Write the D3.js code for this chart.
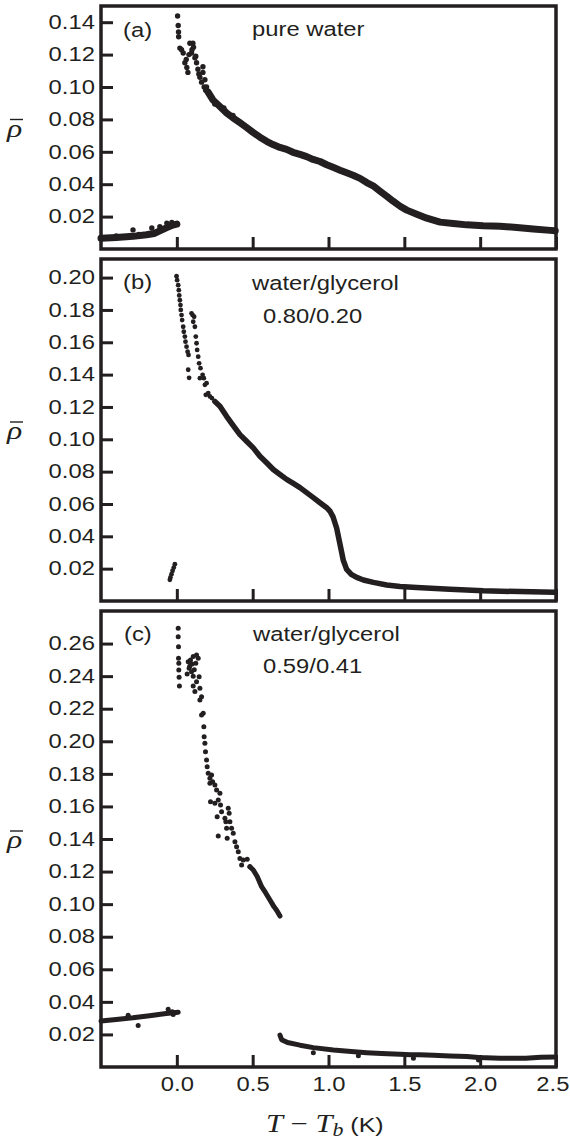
<!DOCTYPE html>
<html>
<head>
<meta charset="utf-8">
<script src="https://cdn.jsdelivr.net/npm/d3@7"></script>
<style>
  body { margin: 0; background: #fff; }
  svg { display: block; }
</style>
</head>
<body>
<div id="chart"></div>
<script>
const ink = '#231f20';
const SX = 1.22; // the original lettering is a bit wide

// ---- tick labels ----
const xTicks = [0, 0.5, 1.0, 1.5, 2.0, 2.5];
const yTicksA = [0.02, 0.04, 0.06, 0.08, 0.10, 0.12, 0.14];
const yTicksB = [0.02, 0.04, 0.06, 0.08, 0.10, 0.12, 0.14, 0.16, 0.18, 0.20];
const yTicksC = [0.02, 0.04, 0.06, 0.08, 0.10, 0.12, 0.14, 0.16, 0.18, 0.20, 0.22, 0.24, 0.26];

// ---- (a) pure water ----
const waterBelow = [[-0.50, 0.0066], [-0.40, 0.0071], [-0.289, 0.0078], [-0.20, 0.0088], [-0.15, 0.0096],
  [-0.112, 0.0112], [-0.066, 0.0132], [-0.026, 0.0148], [0.0, 0.0154]];
const waterBelowDots = [[-0.289, 0.0118], [-0.165, 0.0130], [-0.112, 0.0138], [-0.066, 0.0160], [-0.033, 0.0164],
  [-0.40, 0.0080], [-0.25, 0.0090], [0.004, 0.0154]];
const waterAbove = [[0.205, 0.097], [0.238, 0.092], [0.284, 0.088], [0.328, 0.084], [0.370, 0.081], [0.416, 0.078],
  [0.460, 0.075], [0.502, 0.072], [0.548, 0.069], [0.592, 0.0665], [0.634, 0.0645], [0.680, 0.0627], [0.724, 0.0615],
  [0.766, 0.0597], [0.812, 0.0584], [0.856, 0.057], [0.898, 0.0553], [0.944, 0.054], [0.988, 0.052], [1.030, 0.0504],
  [1.076, 0.0486], [1.120, 0.0470], [1.162, 0.0455], [1.208, 0.0436], [1.252, 0.041], [1.294, 0.039], [1.340, 0.0357],
  [1.384, 0.0326], [1.426, 0.0295], [1.472, 0.0264], [1.516, 0.0240], [1.582, 0.0215], [1.648, 0.019], [1.736, 0.0166],
  [1.822, 0.0158], [1.912, 0.0149], [2.020, 0.0143], [2.132, 0.014], [2.242, 0.0133], [2.350, 0.0124], [2.462, 0.0115],
  [2.495, 0.0113]];
const waterAboveDots = [[0.005, 0.1438], [0.009, 0.138], [0.011, 0.134], [0.012, 0.131], [0.020, 0.124], [0.031, 0.123],
  [0.042, 0.121], [0.053, 0.115], [0.066, 0.112], [0.073, 0.109], [0.086, 0.127], [0.097, 0.121], [0.106, 0.127],
  [0.110, 0.1245], [0.119, 0.118], [0.130, 0.115], [0.139, 0.111], [0.152, 0.106], [0.163, 0.103], [0.172, 0.1125],
  [0.172, 0.109], [0.185, 0.1045], [0.196, 0.100], [0.062, 0.117], [0.080, 0.120], [0.100, 0.123], [0.125, 0.119],
  [0.145, 0.108], [0.180, 0.100], [0.190, 0.098], [0.25, 0.0895], [0.31, 0.0870], [0.37, 0.0825]];

// ---- (b) water/glycerol 0.80/0.20 ----
const mixBBelowDots = [[-0.013, 0.0228], [-0.020, 0.0207], [-0.028, 0.0187], [-0.035, 0.0166], [-0.042, 0.0146],
  [-0.046, 0.0131]];
const mixBAbove = [[0.251, 0.1234], [0.284, 0.1205], [0.328, 0.1142], [0.372, 0.1085], [0.416, 0.1029], [0.460, 0.0988],
  [0.504, 0.0947], [0.548, 0.0895], [0.592, 0.0855], [0.636, 0.0813], [0.680, 0.0782], [0.724, 0.0752], [0.768, 0.0727],
  [0.812, 0.0701], [0.856, 0.0670], [0.900, 0.0639], [0.944, 0.0608], [0.988, 0.0577], [1.010, 0.0555], [1.030, 0.0520],
  [1.054, 0.0450], [1.076, 0.0350], [1.098, 0.0250], [1.120, 0.0195], [1.150, 0.0165], [1.186, 0.0146], [1.230, 0.0130],
  [1.296, 0.0115], [1.384, 0.0099], [1.472, 0.0090], [1.582, 0.0084], [1.800, 0.0073], [2.020, 0.0063], [2.260, 0.0058],
  [2.490, 0.0054]];
const mixBAboveDots = [[-0.002, 0.2009], [0.002, 0.1984], [0.009, 0.1953], [0.013, 0.1922], [0.016, 0.189], [0.020, 0.186],
  [0.024, 0.183], [0.026, 0.180], [0.031, 0.1768], [0.035, 0.1737], [0.042, 0.1696], [0.046, 0.1665], [0.053, 0.1635],
  [0.057, 0.1604], [0.064, 0.1573], [0.071, 0.1542], [0.077, 0.1522], [0.075, 0.143], [0.081, 0.138],
  [0.097, 0.1779], [0.104, 0.1768], [0.114, 0.1758], [0.108, 0.1727], [0.119, 0.1696], [0.125, 0.1635], [0.130, 0.1594],
  [0.134, 0.1553], [0.141, 0.1511], [0.147, 0.147], [0.156, 0.144], [0.152, 0.1378], [0.170, 0.1399], [0.178, 0.1378],
  [0.185, 0.1337], [0.196, 0.1347], [0.191, 0.1275], [0.207, 0.1286], [0.218, 0.1265], [0.231, 0.1255]];

// ---- (c) water/glycerol 0.59/0.41 ----
const mixCBelow = [[-0.50, 0.0282], [-0.40, 0.0292], [-0.29, 0.0302], [-0.18, 0.0315], [-0.07, 0.0328], [0.009, 0.0336]];
const mixCBelowDots = [[-0.321, 0.0318], [-0.255, 0.0255], [-0.057, 0.0354], [-0.024, 0.0322], [-0.03, 0.0340]];
const mixCAbove = [[0.482, 0.123], [0.504, 0.121], [0.530, 0.117], [0.559, 0.1107], [0.585, 0.107], [0.614, 0.1025],
  [0.640, 0.0985], [0.660, 0.096], [0.680, 0.0927]];
const mixCAboveDots = [[0.009, 0.2694], [0.009, 0.2642], [0.011, 0.258], [0.011, 0.251], [0.013, 0.2479], [0.013, 0.2438],
  [0.015, 0.2393], [0.017, 0.234], [0.075, 0.2489], [0.090, 0.2499], [0.108, 0.252], [0.130, 0.253], [0.141, 0.251],
  [0.125, 0.2479], [0.081, 0.2448], [0.097, 0.2427], [0.068, 0.2413], [0.108, 0.240], [0.147, 0.2397], [0.130, 0.2366],
  [0.108, 0.234], [0.119, 0.2305], [0.152, 0.2326], [0.163, 0.2274], [0.152, 0.2254], [0.174, 0.2172], [0.163, 0.2161],
  [0.178, 0.209], [0.180, 0.2028], [0.185, 0.1988], [0.189, 0.1936], [0.196, 0.1885], [0.200, 0.1844], [0.207, 0.1803],
  [0.218, 0.1773], [0.229, 0.1793], [0.218, 0.1742], [0.236, 0.1752], [0.251, 0.1732], [0.262, 0.1701], [0.284, 0.1681],
  [0.273, 0.164], [0.251, 0.1619], [0.288, 0.1609], [0.222, 0.1629], [0.295, 0.1568], [0.339, 0.1589], [0.317, 0.1527],
  [0.345, 0.1558], [0.266, 0.1537], [0.323, 0.1506], [0.328, 0.1466], [0.350, 0.1506], [0.361, 0.1466], [0.372, 0.1435],
  [0.273, 0.1418], [0.332, 0.1404], [0.383, 0.1383], [0.394, 0.1353], [0.405, 0.1322], [0.416, 0.1281], [0.438, 0.1271],
  [0.427, 0.124], [0.464, 0.1275], [0.482, 0.123], [0.085, 0.2460], [0.100, 0.2475], [0.115, 0.2440]];
const mixCTail = [[0.680, 0.0196], [0.691, 0.0168], [0.73, 0.0150], [0.812, 0.0134], [0.90, 0.0119], [1.032, 0.0104],
  [1.15, 0.0095], [1.252, 0.0088], [1.35, 0.0083], [1.472, 0.0078], [1.54, 0.0075], [1.60, 0.0075], [1.692, 0.0072],
  [1.80, 0.0068], [1.912, 0.0064], [1.99, 0.0058], [2.132, 0.0054], [2.30, 0.0054], [2.40, 0.0060], [2.495, 0.0062]];
const mixCTailDots = [[0.900, 0.0088], [1.197, 0.0069], [1.560, 0.0053], [1.989, 0.0043]];

const panels = [
  { top: 6, bottom: 249, yMax: 0.15, yTicks: yTicksA, lw: 7, r: 2.7,
    bands: [waterBelow, waterAbove], dots: [waterBelowDots, waterAboveDots],
    notes: [['(a)', 123, 37], ['pure water', 252, 36]] },
  { top: 259, bottom: 601, yMax: 0.2115, yTicks: yTicksB, lw: 5.5, r: 2.4,
    bands: [mixBAbove], dots: [mixBBelowDots, mixBAboveDots],
    notes: [['(b)', 123, 289], ['water/glycerol', 252, 290], ['0.80/0.20', 263, 323]] },
  { top: 611, bottom: 1067, yMax: 0.28, yTicks: yTicksC, lw: 5, r: 2.5, xLabels: true,
    bands: [mixCBelow, mixCAbove, mixCTail], dots: [mixCBelowDots, mixCAboveDots, mixCTailDots],
    notes: [['(c)', 124, 641], ['water/glycerol', 253, 641], ['0.59/0.41', 263, 673]] }
];

const width = 570, height = 1144;
const svg = d3.select('#chart').append('svg')
  .attr('width', width)
  .attr('height', height)
  .attr('font-family', 'Liberation Sans, Arial, sans-serif');

const x = d3.scaleLinear().domain([-0.5, 2.5]).range([101, 556]);

panels.forEach(p => {
  const y = d3.scaleLinear().domain([0, p.yMax]).range([p.bottom, p.top]);
  const g = svg.append('g');

  // Curves: dense runs as a thick stroke, scattered points as dots
  const line = d3.line().x(d => x(d[0])).y(d => y(d[1]));
  p.bands.forEach(b => {
    g.append('path')
      .attr('d', line(b))
      .attr('fill', 'none')
      .attr('stroke', ink)
      .attr('stroke-width', p.lw)
      .attr('stroke-linecap', 'round')
      .attr('stroke-linejoin', 'round');
  });
  p.dots.forEach(set => {
    g.append('g').selectAll('circle')
      .data(set).enter()
      .append('circle')
      .attr('cx', d => x(d[0]))
      .attr('cy', d => y(d[1]))
      .attr('r', p.r)
      .attr('fill', ink);
  });

  // Left axis, ticks pointing inside
  const ya = g.append('g')
    .attr('transform', `translate(${x.range()[0]},0)`)
    .call(d3.axisLeft(y).tickValues(p.yTicks).tickSizeInner(-12).tickSizeOuter(0)
      .tickPadding(5).tickFormat(d3.format('.2f')));
  ya.select('.domain').remove();
  ya.selectAll('line').attr('stroke', ink).attr('stroke-width', 3);
  ya.selectAll('text')
    .attr('fill', ink)
    .attr('font-family', 'Liberation Sans, Arial, sans-serif')
    .attr('font-size', 19.5)
    .attr('transform', `scale(${SX},1)`);

  // Bottom axis
  const xa = g.append('g')
    .attr('transform', `translate(0,${p.bottom})`)
    .call(d3.axisBottom(x).tickValues(xTicks).tickSizeInner(-12).tickSizeOuter(0)
      .tickPadding(10).tickFormat(p.xLabels ? d3.format('.1f') : ''));
  xa.select('.domain').remove();
  xa.selectAll('line').attr('stroke', ink).attr('stroke-width', 3);
  xa.selectAll('text')
    .attr('fill', ink)
    .attr('font-family', 'Liberation Sans, Arial, sans-serif')
    .attr('font-size', 19.5)
    .attr('transform', `scale(${SX},1)`)
    .attr('dx', d => d === 2.5 ? -3 : 0); // last label sits at the page edge

  // Frame
  g.append('rect')
    .attr('x', x.range()[0])
    .attr('y', p.top)
    .attr('width', x.range()[1] - x.range()[0])
    .attr('height', p.bottom - p.top)
    .attr('fill', 'none')
    .attr('stroke', ink)
    .attr('stroke-width', 3.5);

  // Panel notes
  p.notes.forEach(([t, nx, ny]) => {
    g.append('text')
      .attr('transform', `translate(${nx},${ny}) scale(${SX},1)`)
      .attr('font-size', 19.5)
      .attr('fill', ink)
      .text(t);
  });

  // rho-bar label
  const cy = (p.top + p.bottom) / 2;
  g.append('text')
    .attr('transform', `translate(7,${cy + 9}) scale(${SX},1)`)
    .attr('font-family', 'Liberation Serif, serif')
    .attr('font-style', 'italic')
    .attr('font-size', 26)
    .attr('fill', ink)
    .text('ρ');
  g.append('line')
    .attr('x1', 10).attr('x2', 23)
    .attr('y1', cy - 8).attr('y2', cy - 8)
    .attr('stroke', ink)
    .attr('stroke-width', 1.4);
});

// x title: T − T_b (K)
const title = svg.append('text')
  .attr('transform', `translate(266,1132) scale(${SX},1)`)
  .attr('fill', ink)
  .attr('font-family', 'Liberation Serif, serif')
  .attr('font-size', 25);
title.append('tspan').attr('font-style', 'italic').text('T');
title.append('tspan').text(' − ');
title.append('tspan').attr('font-style', 'italic').text('T');
title.append('tspan').attr('font-style', 'italic').attr('font-size', 18).attr('dy', 4).text('b');
title.append('tspan').attr('dy', -4).attr('font-family', 'Liberation Sans, Arial, sans-serif')
  .attr('font-size', 20.5).text(' (K)');
</script>
</body>
</html>
